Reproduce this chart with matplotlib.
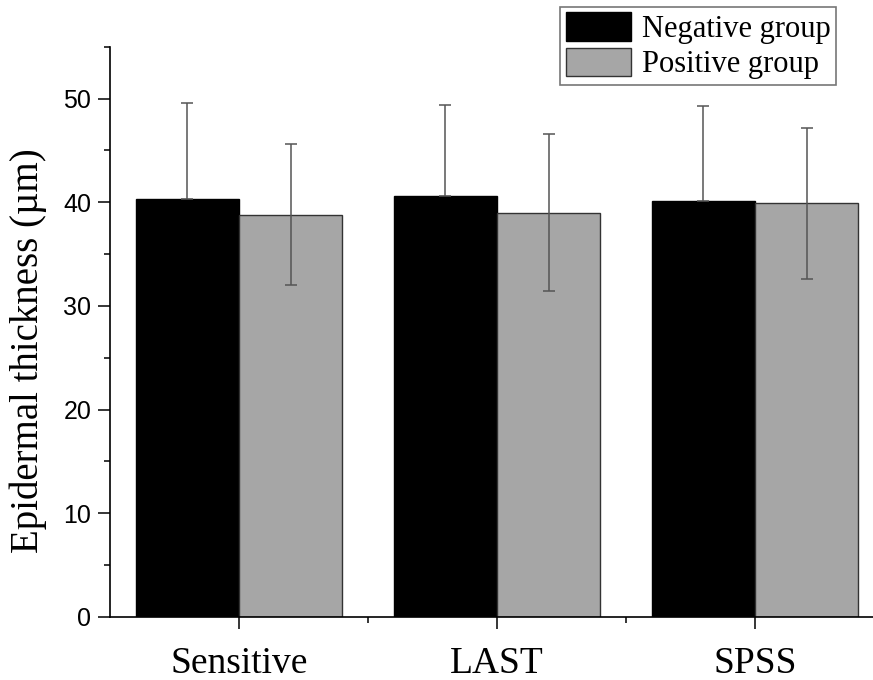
import matplotlib
matplotlib.use("Agg")
from matplotlib import pyplot as plt
from matplotlib.ticker import MultipleLocator, FixedLocator
import numpy as np

# data
categories = ["Sensitive", "LAST", "SPSS"]
negative_mean = [40.3, 40.6, 40.1]
negative_err = [9.3, 8.8, 9.2]
positive_mean = [38.8, 39.0, 39.9]
positive_err = [6.8, 7.6, 7.3]

serif = ["Liberation Serif", "DejaVu Serif"]
sans = ["Liberation Sans", "DejaVu Sans"]

fig = plt.figure(figsize=(8.73, 6.8), dpi=100)
ax = fig.add_axes([110 / 873, 63 / 680, 774 / 873, 570.3 / 680])

x = np.arange(1, len(categories) + 1)
w = 0.4
err_kw = dict(ecolor="#555555", elinewidth=1.1, capsize=4.3, capthick=1.1)

# black bars only show the upper half of the error bar
neg_yerr = [np.zeros(len(negative_err)), negative_err]
ax.bar(x - w / 2, negative_mean, w, yerr=neg_yerr, color="black",
       edgecolor="black", linewidth=1, label="Negative group", error_kw=err_kw)
ax.bar(x + w / 2, positive_mean, w, yerr=positive_err, color="#a6a6a6",
       edgecolor="#333333", linewidth=1, label="Positive group", error_kw=err_kw)

ax.set_xlim(0.5, 3.5)
ax.set_ylim(0, 55)

# axes style
for s in ["top", "right"]:
    ax.spines[s].set_visible(False)
ax.spines["left"].set_linewidth(1.2)
ax.spines["bottom"].set_linewidth(1.2)

ax.set_xticks(x)
ax.set_xticklabels(categories, fontfamily=serif, fontsize=27)
ax.xaxis.set_minor_locator(FixedLocator([1.5, 2.5]))
ax.yaxis.set_major_locator(MultipleLocator(10))
ax.yaxis.set_minor_locator(MultipleLocator(5))
ax.tick_params(axis="both", which="major", direction="out", length=8.5, width=1.1)
ax.tick_params(axis="both", which="minor", direction="out", length=4.5, width=1.1)
ax.tick_params(axis="y", labelsize=18, pad=5)
for lab in ax.get_yticklabels():
    lab.set_fontfamily(sans)
ax.tick_params(axis="x", which="major", pad=13)

ax.set_ylabel("Epidermal thickness (\u00b5m)", fontfamily=serif, fontsize=28,
              labelpad=12, y=0.467)

leg = fig.legend(loc="upper left", bbox_to_anchor=(560 / 873, 1 - 7 / 680),
                 prop={"family": serif, "size": 22}, frameon=True,
                 fancybox=False, edgecolor="#555555", borderaxespad=0,
                 borderpad=0.18, handlelength=2.15, handleheight=1.05,
                 handletextpad=0.35, labelspacing=0.12)
leg.get_frame().set_linewidth(1.2)

plt.savefig("out.png", dpi=100)
